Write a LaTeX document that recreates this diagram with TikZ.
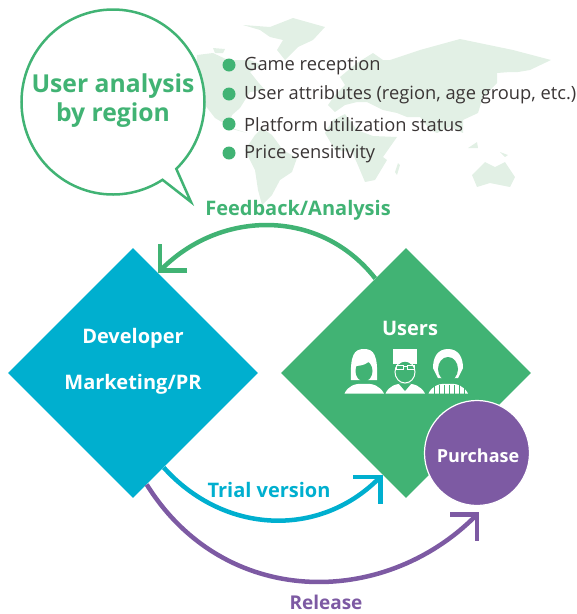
\documentclass[tikz,border=0pt]{standalone}
\usepackage{fontspec}
\setmainfont{Open Sans}
\usetikzlibrary{arrows.meta, shapes.geometric, shapes.callouts}
\definecolor{usergreen}{HTML}{41B374}
\definecolor{devblue}{HTML}{00AFCF}
\definecolor{buypurple}{HTML}{7D5AA3}
\definecolor{mapgreen}{HTML}{E2F0E5}
\definecolor{listgray}{HTML}{3A3535}
\tikzset{
mainarrow/.style={line width=4.5pt, -{Straight Barb[length=19pt, width=38pt, line width=4.5pt]}}, % open arrow heads
bigdiamond/.style={diamond, minimum width=250pt, minimum height=250pt, inner sep=0pt, text=white}, % the two partners
whitelabel/.style={text=white, font=\fontsize{20}{22}\selectfont\bfseries},
arrowlabel/.style={inner sep=0pt, font=\fontsize{20}{22}\selectfont\bfseries},
dot/.style={circle, fill=usergreen, minimum size=13pt, inner sep=0pt},
listitem/.style={anchor=west, inner sep=0pt, text=listgray, font=\fontsize{18.3}{20}\selectfont},
land/.style={fill=mapgreen},
}

\begin{document}
\begin{tikzpicture}[x=1pt, y=-1pt]
    \useasboundingbox (0,0) rectangle (577,614);
    % world map
    \fill[land] (197,55) -- (213,53) -- (228,60) -- (250,60) -- (262,65) -- (250,72) -- (258,82) -- (265,90) -- (250,92) -- (240,108) -- (232,115) -- (228,128) -- (247,133) -- (232,128) -- (215,118) -- (205,105) -- (195,85) -- cycle;
    \fill[land] (243,25) -- (270,27) -- (293,18) -- (325,27) -- (313,40) -- (298,47) -- (285,60) -- (277,50) -- (283,40) -- (270,37) -- (260,30) -- cycle;
    \fill[land] (213,48) -- (225,49) -- (223,53) -- (215,53) -- cycle;
    \fill[land] (255,135) -- (262,128) -- (272,135) -- (283,150) -- (297,158) -- (292,172) -- (280,180) -- (272,195) -- (262,205) -- (258,190) -- (255,170) -- (245,150) -- cycle;
    \fill[land] (340,77) -- (357,63) -- (373,53) -- (383,60) -- (390,60) -- (420,50) -- (460,39) -- (513,50) -- (551,60) -- (530,70) -- (518,72) -- (510,72) -- (497,73) -- (497,83) -- (483,97) -- (478,113) -- (463,120) -- (463,133) -- (450,127) -- (437,133) -- (430,130) -- (420,117) -- (407,117) -- (397,113) -- (383,110) -- (367,102) -- (357,102) -- (345,105) -- (335,112) -- (328,105) -- (335,95) -- (345,85) -- cycle;
    \fill[land] (325,133) -- (333,120) -- (345,114) -- (357,130) -- (373,136) -- (397,137) -- (383,157) -- (387,160) -- (375,180) -- (365,182) -- (357,163) -- (352,152) -- (335,150) -- cycle;
    \fill[land] (472,175) -- (485,162) -- (495,167) -- (505,162) -- (515,177) -- (510,187) -- (490,183) -- (477,187) -- cycle;
    \fill[land] (395,172) -- (398,163) -- (400,165) -- (397,175) -- cycle;
    \fill[land] (468,148) -- (477,142) -- (478,148) -- cycle;
    \fill[land] (500,152) -- (508,155) -- (505,157) -- cycle;

    \node[ellipse callout, draw=usergreen, line width=2.5pt, fill=white, minimum width=183pt, minimum height=185pt, inner sep=0pt, callout absolute pointer={(191,202)}, callout pointer arc=11] (bubble) at (113,102) {};
    \node[text=usergreen, align=center, font=\fontsize{24.7}{29}\selectfont\bfseries] (analysis) at (113,101) {User analysis\\by region};

    \node[dot] (d1) at (229,65) {};
    \node[dot] (d2) at (229,94) {};
    \node[dot] (d3) at (229,124) {};
    \node[dot] (d4) at (229,153) {};
    \node[listitem] (i1) at (244,66) {Game reception};
    \node[listitem] (i2) at (244,95) {User attributes (region, age group, etc.)};
    \node[listitem] (i3) at (244,125) {Platform utilization status};
    \node[listitem] (i4) at (244,154) {Price sensitivity};

    \node[bigdiamond, fill=devblue] (developer) at (133,373) {};
    \node[bigdiamond, fill=usergreen] (users) at (406,373) {};
    \node[whitelabel] (devlabel) at (133,338) {Developer};
    \node[whitelabel] (prlabel) at (133,384) {Marketing/PR};
    \node[whitelabel] (userlabel) at (410,328) {Users};

    % three faces
    \foreach \cx in {364,405,448} {
      \fill[white] (\cx-19.5,393.5) .. controls (\cx-16,386) and (\cx-9,383) .. (\cx,384) .. controls (\cx+9,383) and (\cx+16,386) .. (\cx+20,393.5) -- cycle;
    }
    \fill[white] (351,380) .. controls (350,355) and (354,349) .. (364,349) .. controls (374,349) and (378,355) .. (377,380) -- cycle;
    \fill[white] (393,349) rectangle (417,364);
    \fill[white] (448,349) .. controls (437,349) and (433,358) .. (433,368) -- (438,378) -- (458,378) -- (463,368) .. controls (463,358) and (459,349) .. (448,349) -- cycle;
    \fill[usergreen] (364,371) ellipse (8.5pt and 10.5pt);
    \fill[usergreen] (405,372) ellipse (9pt and 10.5pt);
    \fill[usergreen] (448,369) ellipse (10pt and 12pt);
    \fill[white] (355,366) .. controls (362,366) and (368,364) .. (371,359) -- (362,355) -- cycle;
    \draw[white, line width=1pt] (405,372) ellipse (10pt and 11pt);
    \fill[usergreen] (405,391) -- (399,384) -- (411,384) -- cycle;
    \draw[white, line width=0.8pt] (396,365) rectangle (403,369) (407,365) rectangle (414,369) (403,366.5) -- (407,366.5);
    \foreach \sx in {434,439,444,449,454,459,464} {
      \draw[usergreen, line width=0.9pt] (\sx,385) -- (\sx,394);
    }

    \node[circle, fill=buypurple, draw=white, line width=1.2pt, minimum size=105pt, inner sep=0pt] (purchase) at (477,453) {};
    \node[text=white, font=\fontsize{18}{20}\selectfont\bfseries] (buylabel) at (478,456) {Purchase};

    \draw[mainarrow, usergreen] (users.108) to[out=128, in=45, looseness=1.05] (developer.76);
    \draw[mainarrow, devblue] (developer.-72) to[out=-48, in=225, looseness=1.05] (users.-103);
    \draw[mainarrow, buypurple, shorten >=10pt] (developer.-83) to[out=-58, in=225, looseness=1.1] (purchase.-80);

    \node[arrowlabel, text=usergreen] (feedback) at (298,210) {Feedback/Analysis};
    \node[arrowlabel, text=devblue] (trial) at (269,490) {Trial version};
    \node[arrowlabel, text=buypurple, font=\fontsize{19}{20}\selectfont\bfseries] (release) at (326,602) {Release};
\end{tikzpicture}
\end{document}
